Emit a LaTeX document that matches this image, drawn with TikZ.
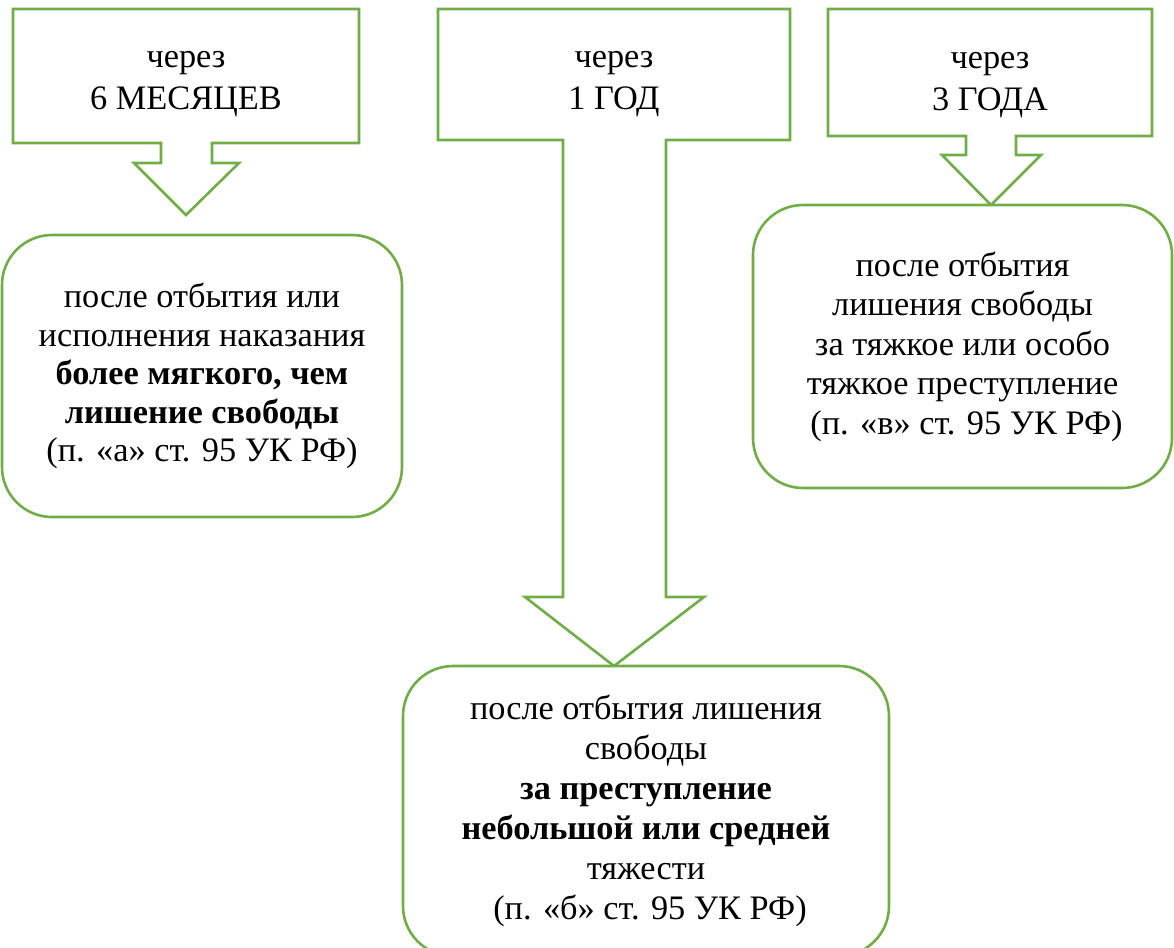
\documentclass[tikz,border=0pt]{standalone}
\usepackage{fontspec}
\setmainfont{Liberation Serif}[BoldFont={Liberation Serif Bold},ItalicFont={Liberation Serif Italic}]
\definecolor{lgreen}{RGB}{112,173,71}
\begin{document}
\begin{tikzpicture}[x=1pt,y=-1pt,
  outl/.style={draw=lgreen,line width=2.6pt,line join=miter},
  rbox/.style={draw=lgreen,line width=2.6pt,rounded corners=50pt,fill=white,align=center,inner sep=0pt,
    font=\fontsize{34.3}{38.5}\selectfont},
  ctext/.style={align=center,inner sep=0pt,font=\fontsize{34.3}{42.5}\selectfont}]
\useasboundingbox (0,0) rectangle (1174,947);
% callout 1
\draw[outl] (13,9) -- (359,9) -- (359,143) -- (212,143) -- (212,163) -- (239,163) -- (186,215)
  -- (134,163) -- (161,163) -- (161,143) -- (13,143) -- cycle;
\node[ctext] (c1) at (186,84) {через\\6 МЕСЯЦЕВ};
% callout 2
\draw[outl] (438,9) -- (790,9) -- (790,140) -- (666,140) -- (666,597) -- (704,597) -- (614,666)
  -- (525,597) -- (563,597) -- (563,140) -- (438,140) -- cycle;
\node[ctext] (c2) at (614,84) {через\\1 ГОД};
% callout 3
\draw[outl] (828,9) -- (1152,9) -- (1152,136) -- (1016,136) -- (1016,155) -- (1041,155) -- (991,205)
  -- (942,155) -- (966,155) -- (966,136) -- (828,136) -- cycle;
\node[ctext] (c3) at (990,85) {через\\3 ГОДА};
% boxes
\node[rbox,minimum width=400pt,minimum height=282pt] (b1) at (202,376)
  {после отбытия или\\исполнения наказания\\\textbf{более мягкого, чем}\\\textbf{лишение свободы}\\(п. «а» ст. 95 УК РФ)};
\node[rbox,minimum width=419pt,minimum height=283pt,font=\fontsize{34.3}{39.5}\selectfont] (b2) at (962.5,346.5)
  {после отбытия\\лишения свободы\\за тяжкое или особо\\тяжкое преступление\\\hspace*{8pt}(п. «в» ст. 95 УК РФ)};
\node[rbox,minimum width=486pt,minimum height=290pt,font=\fontsize{34.3}{40}\selectfont] (b3) at (646,811)
  {после отбытия лишения\\свободы\\\textbf{за преступление}\\\textbf{небольшой или средней}\\тяжести\\\hspace*{8pt}(п. «б» ст. 95 УК РФ)};
\end{tikzpicture}
\end{document}
